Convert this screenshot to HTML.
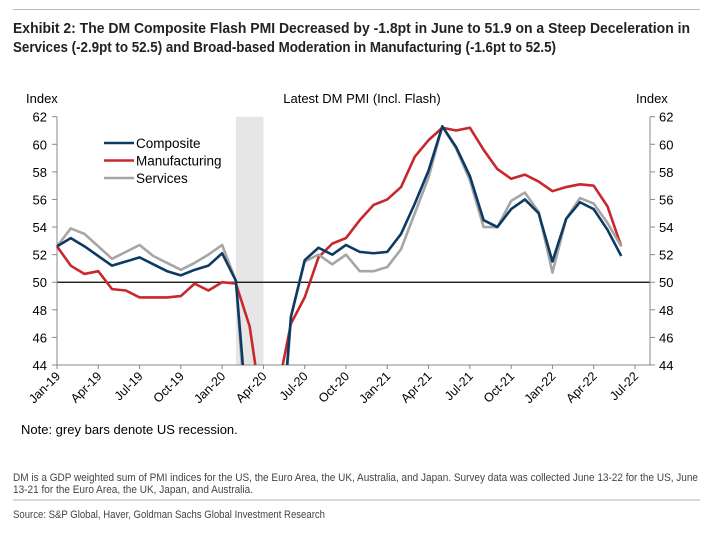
<!DOCTYPE html>
<html><head><meta charset="utf-8"><style>
html,body{margin:0;padding:0;background:#fff;width:711px;height:533px;overflow:hidden;}
svg{display:block;font-family:"Liberation Sans",Arial,sans-serif;}
</style></head><body>
<svg width="711" height="533" viewBox="0 0 711 533">
<line x1="13" y1="9.5" x2="700" y2="9.5" stroke="#bbb" stroke-width="1"/>
<text x="13" y="33" font-family="'Liberation Sans Narrow','Liberation Sans',sans-serif" font-weight="bold" font-size="15" fill="#222" textLength="677" lengthAdjust="spacingAndGlyphs">Exhibit 2: The DM Composite Flash PMI Decreased by -1.8pt in June to 51.9 on a Steep Deceleration in</text>
<text x="13" y="52" font-family="'Liberation Sans Narrow','Liberation Sans',sans-serif" font-weight="bold" font-size="15" fill="#222" textLength="543" lengthAdjust="spacingAndGlyphs">Services (-2.9pt to 52.5) and Broad-based Moderation in Manufacturing (-1.6pt to 52.5)</text>
<text x="26" y="103" font-size="13" fill="#000">Index</text>
<text x="636" y="103" font-size="13" fill="#000">Index</text>
<text x="362" y="103" font-size="13" fill="#000" text-anchor="middle">Latest DM PMI (Incl. Flash)</text>
<g id="chart"></g>
<text x="21" y="434" font-size="13" fill="#000">Note: grey bars denote US recession.</text>
<text x="13" y="481" font-family="'Liberation Sans Narrow','Liberation Sans',sans-serif" font-size="11" fill="#444" textLength="685" lengthAdjust="spacingAndGlyphs">DM is a GDP weighted sum of PMI indices for the US, the Euro Area, the UK, Australia, and Japan. Survey data was collected June 13-22 for the US, June</text>
<text x="13" y="493" font-family="'Liberation Sans Narrow','Liberation Sans',sans-serif" font-size="11" fill="#444" textLength="240" lengthAdjust="spacingAndGlyphs">13-21 for the Euro Area, the UK, Japan, and Australia.</text>
<line x1="13" y1="500" x2="700" y2="500" stroke="#ccc" stroke-width="1.5"/>
<text x="13" y="518" font-family="'Liberation Sans Narrow','Liberation Sans',sans-serif" font-size="11" fill="#444" textLength="312" lengthAdjust="spacingAndGlyphs">Source: S&amp;P Global, Haver, Goldman Sachs Global Investment Research</text>
</svg>
<script>
const tickLabels=["Jan-19","Apr-19","Jul-19","Oct-19","Jan-20","Apr-20","Jul-20","Oct-20","Jan-21","Apr-21","Jul-21","Oct-21","Jan-22","Apr-22","Jul-22"];
const yTicks=[44,46,48,50,52,54,56,58,60,62];
const composite=[52.6,53.2,52.6,51.9,51.2,51.5,51.8,51.3,50.8,50.5,50.9,51.2,52.1,50.1,38,25,35,47.5,51.6,52.5,52.0,52.7,52.2,52.1,52.2,53.5,55.7,58.1,61.3,59.8,57.7,54.5,54.0,55.3,56.0,55.0,51.5,54.6,55.8,55.3,53.8,51.9];
const manufacturing=[52.6,51.2,50.6,50.8,49.5,49.4,48.9,48.9,48.9,49.0,49.9,49.4,50.0,49.9,46.8,40,42,47,48.9,51.8,52.8,53.2,54.5,55.6,56.0,56.9,59.1,60.3,61.2,61.0,61.2,59.6,58.2,57.5,57.8,57.3,56.6,56.9,57.1,57.0,55.5,52.6];
const services=[52.6,53.9,53.5,52.6,51.7,52.2,52.7,51.9,51.4,50.9,51.4,52.0,52.7,50.1,36,22,33,47.5,51.5,52.0,51.3,52.0,50.8,50.8,51.1,52.4,55.0,57.6,61.3,59.7,57.4,54.0,54.0,55.9,56.5,55.1,50.7,54.6,56.1,55.7,54.3,52.6];
const recession=[13,15];
const NS="http://www.w3.org/2000/svg";
const g=document.getElementById('chart');
const X0=57,X1=635,XR=650,Y0=365,Y1=116.7,N=42,YMIN=44;
const x=i=>X0+(X1-X0)*i/N;
const y=v=>Y0-(Y0-Y1)*(v-44)/18;
function mk(t,a){const e=document.createElementNS(NS,t);for(const k in a)e.setAttribute(k,a[k]);g.appendChild(e);return e;}
let r=mk('rect',{x:x(recession[0]),y:Y1,width:x(recession[1])-x(recession[0]),height:Y0-Y1,fill:'#e6e6e6'});


let l=mk('line',{x1:X0,y1:y(50),x2:XR,y2:y(50),stroke:'#000','stroke-width':1.3});


l=mk('line',{x1:X0,y1:Y1,x2:X0,y2:Y0,stroke:'#888'});


l=mk('line',{x1:XR,y1:Y1,x2:XR,y2:Y0,stroke:'#888'});


l=mk('line',{x1:X0,y1:Y0,x2:XR,y2:Y0,stroke:'#888'});


yTicks.forEach(v=>{
 mk('line',{x1:X0-5,y1:y(v),x2:X0,y2:y(v),stroke:'#888'});
 mk('line',{x1:XR,y1:y(v),x2:XR+5,y2:y(v),stroke:'#888'});
 let t=mk('text',{x:X0-10,y:y(v)+5,'font-size':13,'text-anchor':'end'});t.textContent=v;
 
 
 t=mk('text',{x:XR+9,y:y(v)+5,'font-size':13});t.textContent=v;
 
 
});
tickLabels.forEach((s,i)=>{
 const xi=x(i*3);
 mk('line',{x1:xi,y1:Y0,x2:xi,y2:Y0+4,stroke:'#888'});
 const t=mk('text',{x:xi+4,y:Y0+12,'font-size':12.5,'text-anchor':'end',transform:`rotate(-45 ${xi+4} ${Y0+12})`});
 t.textContent=s;
 
 
});
function clippedPath(arr){
 let d='',pen=false;
 for(let i=0;i<arr.length;i++){
  const v=arr[i];
  if(v>=YMIN){
   if(!pen){
    if(i>0){const u=arr[i-1];const f=(YMIN-u)/(v-u);d+='M'+x(i-1+f).toFixed(2)+','+y(YMIN).toFixed(2)+'L';}
    else d+='M';
    pen=true;
   } else d+='L';
   d+=x(i).toFixed(2)+','+y(v).toFixed(2);
  } else if(pen){
   const u=arr[i-1];const f=(u-YMIN)/(u-v);
   d+='L'+x(i-1+f).toFixed(2)+','+y(YMIN).toFixed(2);
   pen=false;
  }
 }
 return d;
}
function line(arr,col,name){
 const p=mk('path',{d:clippedPath(arr),fill:'none',stroke:col,'stroke-width':2.6,'stroke-linejoin':'round'});
 
 
}
line(manufacturing,'#c8282d','manufacturing-line');
line(services,'#a6a6a6','services-line');
line(composite,'#0d3a63','composite-line');
const leg=[['Composite','#0d3a63'],['Manufacturing','#c8282d'],['Services','#a6a6a6']];
leg.forEach((d,i)=>{
 const yy=143+i*17.5;
 let e=mk('line',{x1:104,y1:yy,x2:134,y2:yy,stroke:d[1],'stroke-width':2.6});
 
 
 e=mk('text',{x:136,y:yy+5,'font-size':13.5});e.textContent=d[0];
 
 
});
</script>
</body></html>
